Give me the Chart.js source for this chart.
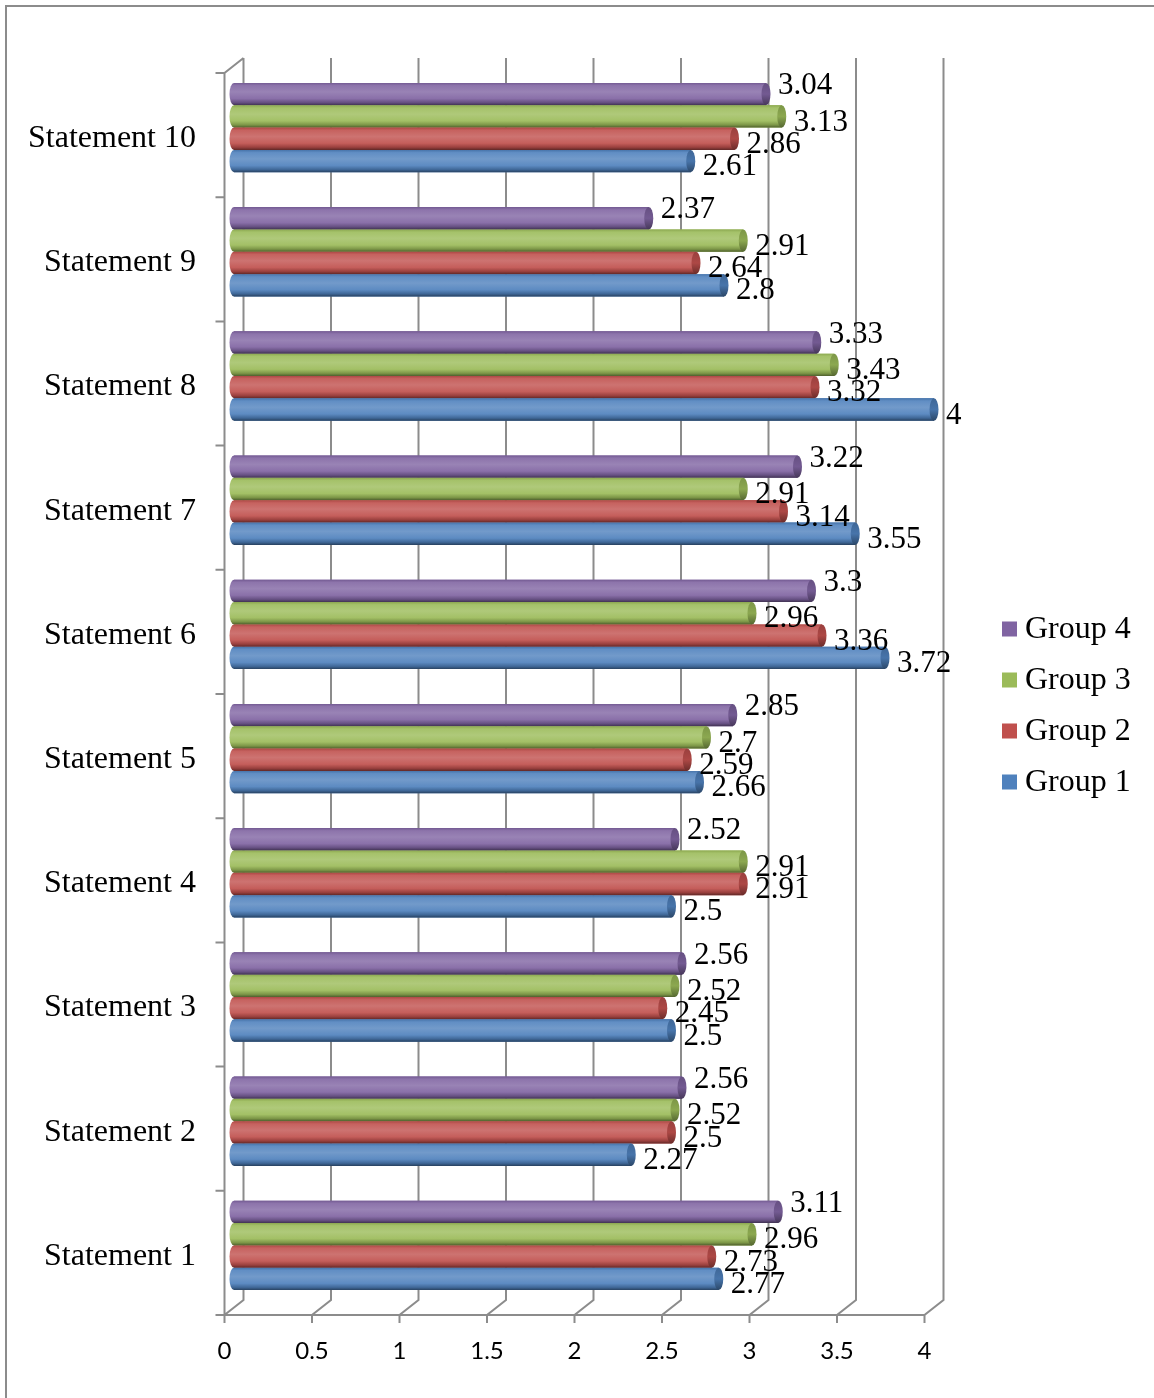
<!DOCTYPE html>
<html>
<head>
<meta charset="utf-8">
<script src="https://cdn.jsdelivr.net/npm/chart.js@4.4.0/dist/chart.umd.min.js"></script>
<style>
  html, body { margin: 0; padding: 0; background: #ffffff; }
  #wrap { position: relative; width: 1154px; height: 1398px; overflow: hidden; }
  #frame { position: absolute; left: 5px; top: 5px; right: -10px; bottom: -10px;
           border-top: 2px solid #8c8c8c; border-left: 2px solid #8c8c8c; }
  #chart { position: absolute; left: 0; top: 0; }
</style>
</head>
<body>
<div id="wrap">
  <div id="frame"></div>
  <canvas id="chart" width="1154" height="1398"></canvas>
</div>
<script>
// Survey scores per statement, one array per group
const statements = ['Statement 1', 'Statement 2', 'Statement 3', 'Statement 4', 'Statement 5',
                    'Statement 6', 'Statement 7', 'Statement 8', 'Statement 9', 'Statement 10'];
const group1 = [2.77, 2.27, 2.5, 2.5, 2.66, 3.72, 3.55, 4, 2.8, 2.61];
const group2 = [2.73, 2.5, 2.45, 2.91, 2.59, 3.36, 3.14, 3.32, 2.64, 2.86];
const group3 = [2.96, 2.52, 2.52, 2.91, 2.7, 2.96, 2.91, 3.43, 2.91, 3.13];
const group4 = [3.11, 2.56, 2.56, 2.52, 2.85, 3.3, 3.22, 3.33, 2.37, 3.04];
const groupNames = ['Group 4', 'Group 3', 'Group 2', 'Group 1'];
const groupColors = ['#8064A2', '#9BBB59', '#C0504D', '#4F81BD'];
const xTickLabels = ['0', '0.5', '1', '1.5', '2', '2.5', '3', '3.5', '4'];

const SERIF = "'Liberation Serif', 'Times New Roman', serif";
const SANS = "Lato, 'Liberation Sans', sans-serif";
const DEPTH_X = 9.5;   // half of the 3D depth offset (bar plane sits mid-depth)
const DEPTH_Y = 7.5;
const GRID = '#8c8c8c';

function hexRgb(hex) {
  const n = parseInt(hex.slice(1), 16);
  return [(n >> 16) & 255, (n >> 8) & 255, n & 255];
}
function shade(hex, f) {
  const c = hexRgb(hex).map(v => f >= 0 ? v + (255 - v) * f : v * (1 + f));
  return 'rgb(' + c.map(v => Math.round(v)).join(',') + ')';
}

// Back wall, floor and left wall of the 3D frame
const frame3d = {
  id: 'frame3d',
  beforeDatasetsDraw(chart) {
    const { ctx, chartArea: a, scales: { x, y } } = chart;
    const frontTop = a.top + DEPTH_Y, frontBot = a.bottom + DEPTH_Y;
    const backTop = a.top - DEPTH_Y, backBot = a.bottom - DEPTH_Y;
    ctx.save();
    ctx.strokeStyle = GRID;
    ctx.lineWidth = 2;
    ctx.lineCap = 'butt';
    const vals = x.ticks.map(t => t.value);
    ctx.beginPath();
    vals.forEach(v => {
      const px = x.getPixelForValue(v);
      // back wall gridline
      ctx.moveTo(px + DEPTH_X, backTop);
      ctx.lineTo(px + DEPTH_X, backBot);
      // floor diagonal
      ctx.lineTo(px - DEPTH_X, frontBot);
      // tick mark
      ctx.lineTo(px - DEPTH_X, frontBot + 8);
    });
    // floor front edge
    const x0 = x.getPixelForValue(x.min) - DEPTH_X;
    const x1 = x.getPixelForValue(x.max) - DEPTH_X;
    ctx.moveTo(x0, frontBot);
    ctx.lineTo(x1, frontBot);
    // left wall front edge and top diagonal
    ctx.moveTo(x0, frontBot);
    ctx.lineTo(x0, frontTop);
    ctx.lineTo(x0 + 2 * DEPTH_X, backTop);
    // category tick marks
    const n = y.ticks.length;
    for (let i = 0; i <= n; i++) {
      const py = frontTop + (frontBot - frontTop) * i / n;
      ctx.moveTo(x0 - 9, py);
      ctx.lineTo(x0, py);
    }
    ctx.stroke();
    ctx.restore();
  }
};

function drawCylinder(ctx, base, end, yc, h, color) {
  const rx = 4.5, top = yc - h / 2, bot = yc + h / 2;
  const g = ctx.createLinearGradient(0, top, 0, bot);
  g.addColorStop(0, shade(color, -0.1));
  g.addColorStop(0.12, shade(color, 0.1));
  g.addColorStop(0.4, shade(color, 0.2));
  g.addColorStop(0.7, shade(color, 0.08));
  g.addColorStop(0.88, shade(color, -0.2));
  g.addColorStop(1, shade(color, -0.5));
  ctx.fillStyle = g;
  ctx.beginPath();
  ctx.moveTo(base, top);
  ctx.lineTo(end, top);
  ctx.lineTo(end, bot);
  ctx.lineTo(base, bot);
  ctx.ellipse(base, yc, rx, h / 2, 0, Math.PI / 2, Math.PI * 1.5);
  ctx.closePath();
  ctx.fill();
  // end face of the cylinder
  const g2 = ctx.createLinearGradient(0, top, 0, bot);
  g2.addColorStop(0, shade(color, -0.2));
  g2.addColorStop(0.5, shade(color, -0.1));
  g2.addColorStop(1, shade(color, -0.45));
  ctx.fillStyle = g2;
  ctx.beginPath();
  ctx.ellipse(end, yc, rx, h / 2, 0, 0, Math.PI * 2);
  ctx.fill();
}

// Cylinder bodies and value labels on top of the bar elements
const cylinders = {
  id: 'cylinders',
  afterDatasetsDraw(chart) {
    const { ctx } = chart;
    ctx.save();
    chart.data.datasets.forEach((ds, di) => {
      const meta = chart.getDatasetMeta(di);
      meta.data.forEach(el => {
        const p = el.getProps(['x', 'y', 'base', 'height'], true);
        drawCylinder(ctx, p.base, p.x, p.y, p.height, ds.backgroundColor);
      });
    });
    ctx.fillStyle = '#000';
    ctx.font = '31px ' + SERIF;
    ctx.textAlign = 'left';
    ctx.textBaseline = 'middle';
    chart.data.datasets.forEach((ds, di) => {
      const meta = chart.getDatasetMeta(di);
      const dy = di === 0 ? -8 : 6;
      meta.data.forEach((el, i) => {
        const p = el.getProps(['x', 'y'], true);
        ctx.fillText(String(ds.data[i]), p.x + 12, p.y + dy);
      });
    });
    ctx.restore();
  }
};

// Legend at the right, built from the datasets
const sideLegend = {
  id: 'sideLegend',
  afterDraw(chart) {
    const { ctx } = chart;
    ctx.save();
    ctx.font = '32px ' + SERIF;
    ctx.textAlign = 'left';
    ctx.textBaseline = 'middle';
    chart.data.datasets.forEach((ds, i) => {
      const cy = 629 + 51 * i;
      ctx.fillStyle = ds.backgroundColor;
      ctx.fillRect(1002, cy - 7.5, 15, 15);
      ctx.fillStyle = '#000';
      ctx.fillText(ds.label, 1025, cy + 1);
    });
    ctx.restore();
  }
};

const seriesValues = [group4, group3, group2, group1];

new Chart(document.getElementById('chart'), {
  type: 'bar',
  data: {
    labels: statements,
    datasets: seriesValues.map((vals, i) => ({
      label: groupNames[i],
      data: vals,
      backgroundColor: groupColors[i],
      borderWidth: 0,
      categoryPercentage: 0.72,
      barPercentage: 1.0
    }))
  },
  options: {
    indexAxis: 'y',
    responsive: false,
    animation: false,
    devicePixelRatio: 1,
    layout: { padding: { left: 0, top: 65.5, right: 220, bottom: 0 } },
    plugins: {
      legend: { display: false },
      tooltip: { enabled: false }
    },
    scales: {
      x: {
        min: 0,
        max: 4,
        border: { display: false },
        grid: { display: false, drawTicks: false },
        ticks: {
          stepSize: 0.5,
          labelOffset: -DEPTH_X,
          padding: 29,
          color: '#000',
          font: { family: SANS, size: 24 },
          maxRotation: 0,
          callback: (v, i) => xTickLabels[i]
        },
        afterFit: s => { s.height = 1398 - 1307.5; }
      },
      y: {
        reverse: true,
        border: { display: false },
        grid: { display: false, drawTicks: false },
        ticks: {
          padding: 38,
          labelOffset: 11,
          color: '#000',
          font: { family: SERIF, size: 32 }
        },
        afterFit: s => { s.width = 234; }
      }
    }
  },
  plugins: [frame3d, cylinders, sideLegend]
});
</script>
</body>
</html>
